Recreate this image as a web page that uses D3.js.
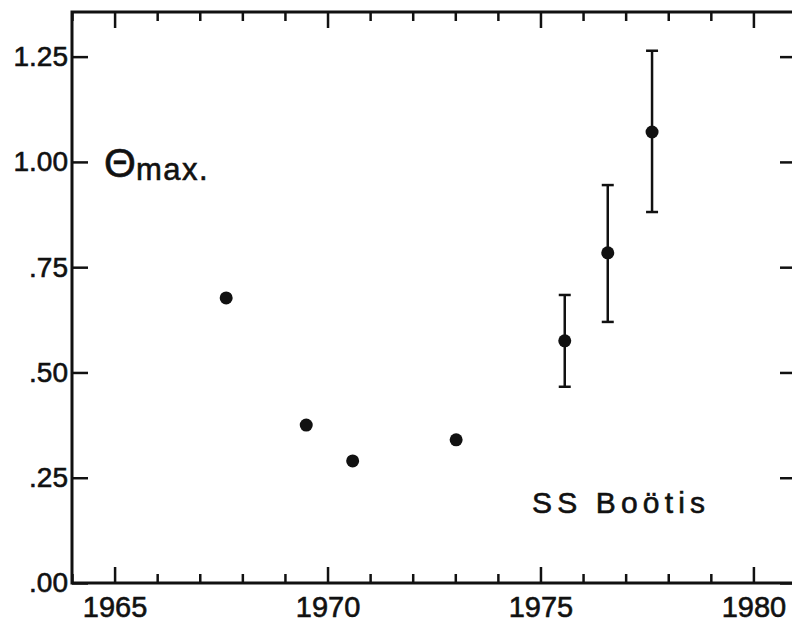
<!DOCTYPE html>
<html>
<head>
<meta charset="utf-8">
<script src="https://cdn.jsdelivr.net/npm/d3@7"></script>
<style>
    body { margin: 0; background: #fff; }
    text { font-family: "Liberation Sans", Arial, sans-serif; fill: #111; stroke: #111; stroke-width: 0.6px; }
</style>
</head>
<body>
<svg id="chart" width="792" height="628"></svg>
<script>
'use strict';

// SS Bootis, maximum theta per epoch
let years = [1967.62, 1969.50, 1970.59, 1973.02, 1975.57, 1976.58, 1977.62]
let thetaMax = [0.677, 0.375, 0.290, 0.340, 0.575, 0.784, 1.071]
let errLow = [null, null, null, null, 0.466, 0.620, 0.881]
let errHigh = [null, null, null, null, 0.684, 0.945, 1.264]

let xMajorTicks = [1965, 1970, 1975, 1980]
let xMinorTicks = [1964, 1966, 1967, 1968, 1969, 1971, 1972, 1973, 1974, 1976, 1977, 1978, 1979, 1981]
let yTicks = [0, 0.25, 0.5, 0.75, 1.0, 1.25]
let yTickLabels = ['.00', '.25', '.50', '.75', '1.00', '1.25']

let svg = d3.select('#chart')
let margin = {left: 72, top: 12}
let plotW = 724
let plotH = 571

let x = d3.scaleLinear().domain([1964, 1981]).range([0, plotW])
let y = d3.scaleLinear().domain([0, 1.356]).range([plotH, 0])

let g = svg.append('g')
    .attr('transform', 'translate(' + margin.left + ',' + margin.top + ')')

function styleAxis(sel) {
    sel.select('.domain').remove()
    sel.selectAll('line').attr('stroke', '#111').attr('stroke-width', 2.5)
    sel.selectAll('text').style('font-size', '29px').attr('fill', '#111')
}

// bottom: major ticks with labels, minor ticks without
g.append('g')
    .attr('transform', 'translate(0,' + plotH + ')')
    .call(d3.axisBottom(x).tickValues(xMajorTicks).tickFormat(d3.format('d'))
        .tickSizeInner(-16).tickSizeOuter(0).tickPadding(13))
    .call(styleAxis)
g.append('g')
    .attr('transform', 'translate(0,' + plotH + ')')
    .call(d3.axisBottom(x).tickValues(xMinorTicks).tickFormat('').tickSizeInner(-9).tickSizeOuter(0))
    .call(styleAxis)

// top: ticks only
g.append('g')
    .call(d3.axisTop(x).tickValues(xMajorTicks).tickFormat('').tickSizeInner(-16).tickSizeOuter(0))
    .call(styleAxis)
g.append('g')
    .call(d3.axisTop(x).tickValues(xMinorTicks).tickFormat('').tickSizeInner(-9).tickSizeOuter(0))
    .call(styleAxis)

// left with labels, right ticks only
g.append('g')
    .call(d3.axisLeft(y).tickValues(yTicks)
        .tickFormat(function(d, i) { return yTickLabels[i]; })
        .tickSizeInner(-16).tickSizeOuter(0).tickPadding(4))
    .call(styleAxis)
    .selectAll('text').style('font-size', '28px')
g.append('g')
    .attr('transform', 'translate(' + plotW + ',0)')
    .call(d3.axisRight(y).tickValues(yTicks).tickFormat('').tickSizeInner(-16).tickSizeOuter(0))
    .call(styleAxis)

// frame
g.append('rect')
    .attr('x', 0)
    .attr('y', 0)
    .attr('width', plotW)
    .attr('height', plotH)
    .attr('fill', 'none')
    .attr('stroke', '#111')
    .attr('stroke-width', 3)

let points = years.map(function(d, i) {
    return {year: d, value: thetaMax[i], lo: errLow[i], hi: errHigh[i]}
})
let withErr = points.filter(function(d) { return d.lo !== null; })

let bars = g.append('g').attr('class', 'errors')
    .selectAll('g')
    .data(withErr)
    .enter().append('g')
    .attr('stroke', '#111')
    .attr('stroke-width', 2.5)
bars.append('line')
    .attr('x1', function(d) { return x(d.year); })
    .attr('x2', function(d) { return x(d.year); })
    .attr('y1', function(d) { return y(d.lo); })
    .attr('y2', function(d) { return y(d.hi); })
bars.append('line')
    .attr('x1', function(d) { return x(d.year) - 6; })
    .attr('x2', function(d) { return x(d.year) + 6; })
    .attr('y1', function(d) { return y(d.hi); })
    .attr('y2', function(d) { return y(d.hi); })
bars.append('line')
    .attr('x1', function(d) { return x(d.year) - 6; })
    .attr('x2', function(d) { return x(d.year) + 6; })
    .attr('y1', function(d) { return y(d.lo); })
    .attr('y2', function(d) { return y(d.lo); })

g.append('g').attr('class', 'points')
    .selectAll('circle')
    .data(points)
    .enter().append('circle')
    .attr('cx', function(d) { return x(d.year); })
    .attr('cy', function(d) { return y(d.value); })
    .attr('r', 6.5)
    .attr('fill', '#111')

// theta max label
let lab = svg.append('text')
    .attr('x', 104)
    .attr('y', 177)
lab.append('tspan')
    .style('font-size', '41px')
    .text('\u0398')
lab.append('tspan')
    .attr('dy', 3)
    .style('font-size', '31px')
    .style('letter-spacing', '1.5px')
    .text('max.')

svg.append('text')
    .attr('x', 532)
    .attr('y', 513)
    .attr('textLength', 173)
    .style('font-size', '30px')
    .text('SS  Boötis')
</script>
</body>
</html>
